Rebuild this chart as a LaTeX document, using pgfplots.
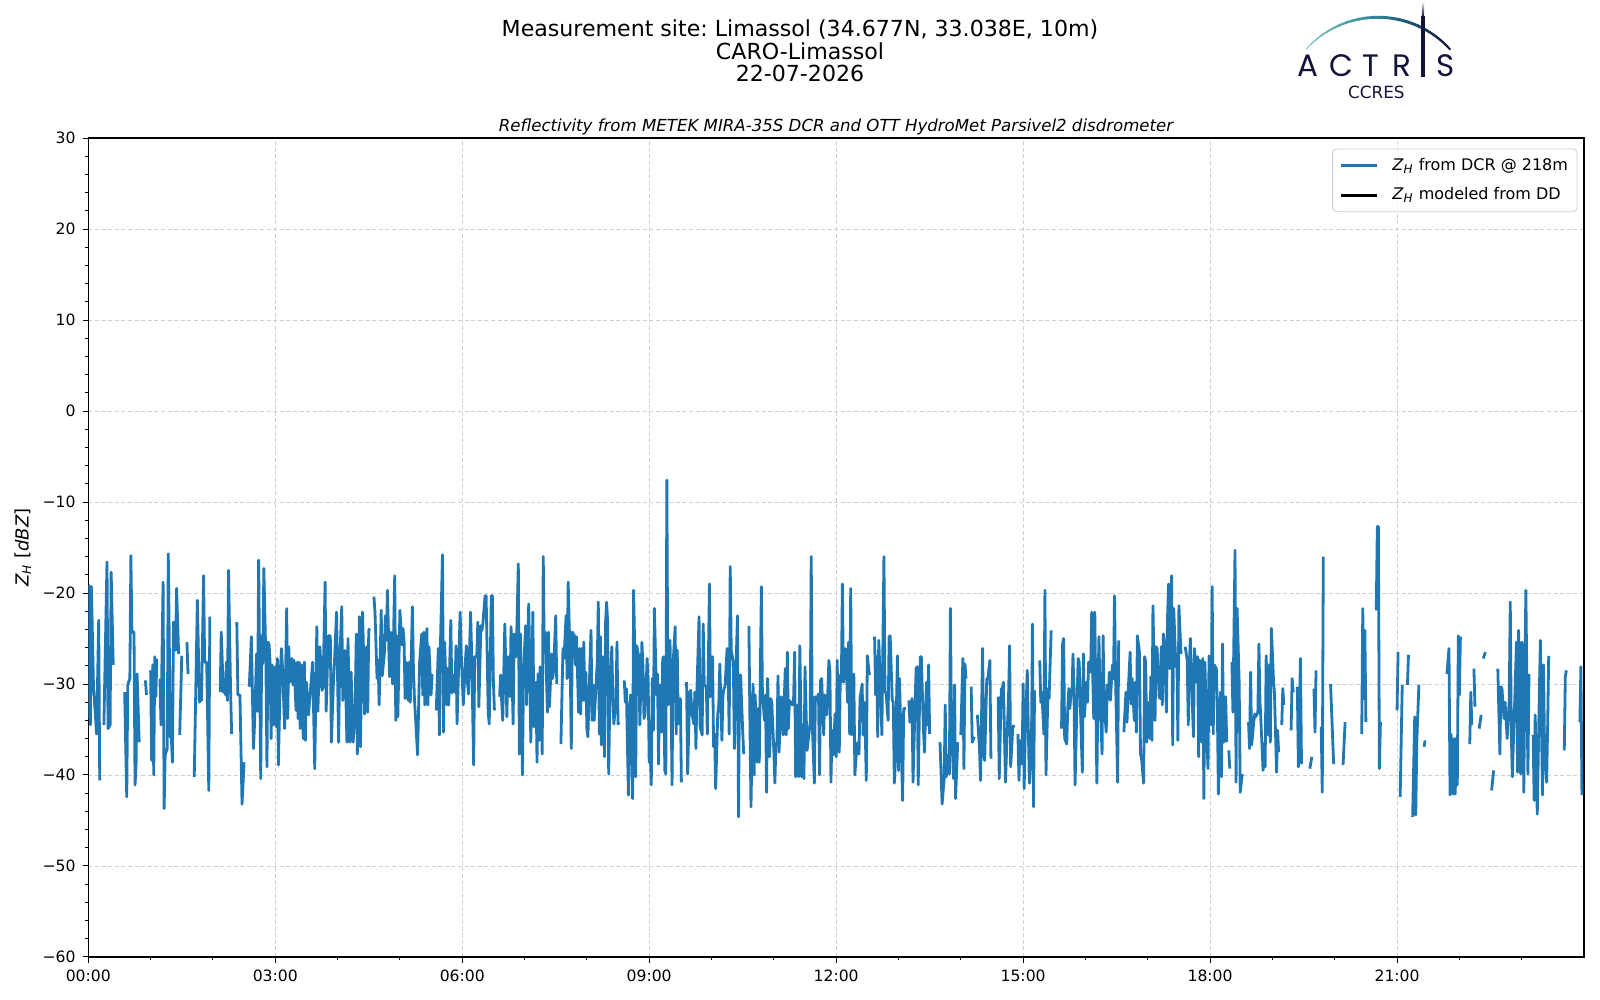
\documentclass[border=0pt]{standalone}
\usepackage{fontspec}
\setmainfont{DejaVu Sans}
\newfontfamily\logofont{Poppins}
\usepackage{pgfplots}
\pgfplotsset{compat=1.18}
\definecolor{mplblue}{HTML}{1F77B4}
\definecolor{navy}{HTML}{12123A}
\definecolor{tealA}{HTML}{7CC8C6}
\definecolor{tealB}{HTML}{2A7F95}
\definecolor{gridgray}{HTML}{D0D0D0}
\definecolor{leggray}{HTML}{CCCCCC}
\frenchspacing
\begin{document}
\begin{tikzpicture}
\path[use as bounding box] (0,0) rectangle (800pt,500pt);
\begin{axis}[
  at={(44.15pt,21.5pt)}, anchor=south west,
  scale only axis, width=747.85pt, height=409.5pt,
  xmin=0, xmax=1440, ymin=-60, ymax=30,
  xtick={0,180,...,1260},
  xticklabels={00:00,03:00,06:00,09:00,12:00,15:00,18:00,21:00},
  minor xtick={60,120,...,1380},
  ytick={-60,-50,...,30},
  yticklabels={−60,−50,−40,−30,−20,−10,0,10,20,30},
  minor ytick={-58,-56,...,28},
  tick align=outside, tick pos=left,
  major tick length=2.85pt, minor tick length=1.7pt,
  every tick/.style={black, line width=0.5pt},
  axis line style={line width=0.6pt},
  grid=major,
  major grid style={gridgray, dash pattern=on 2pt off 1.3pt, line width=0.4pt},
  tick label style={font=\fontsize{7.8}{9}\selectfont},
  unbounded coords=jump,
  legend cell align=left,
  legend image code/.code={\path (-1pt,0pt) (23pt,0pt); \draw[#1] (0pt,0pt) -- (18pt,0pt);},
  legend style={at={(1,1)}, anchor=north east, xshift=-3.3pt, yshift=-5.3pt,
    draw=leggray, rounded corners=2pt, fill=white,
    fill opacity=0.8, text opacity=1, draw opacity=1, font=\fontsize{8}{9.6}\selectfont,
    inner xsep=2.5pt, inner ysep=2.5pt, row sep=3.2pt},
]
\addlegendimage{mplblue, line width=1.4pt, opacity=1}
\addlegendentry{\textit{Z}\textsubscript{\textit{H}} from DCR @ 218m}
\addlegendimage{black, line width=1.4pt, opacity=1}
\addlegendentry{\textit{Z}\textsubscript{\textit{H}} modeled from DD}
\addplot[mplblue, line width=1.4pt, line join=round, forget plot] table[x index=0, y index=1] {
0 -33.8
1 -19.2
2 -34.5
3 -19.3
5 -30.3
8 -35.5
10 -23.0
11 -40.6
13 nan
15 -34.5
18 -16.6
19 -34.9
21 -34.5
22 -17.7
24 -27.9
30 nan
35 -30.9
37 -42.4
38 -30.1
40 -29.4
41 -15.9
42 -24.3
44 -24.3
45 -41.1
46 -38.9
47 -28.9
49 -36.4
52 nan
55 -29.6
56 -31.2
58 nan
60 -28.5
61 -38.4
62 -27.9
63 -40.0
64 -27.0
65 -31.4
66 -27.2
67 nan
69 -29.4
70 -34.5
72 -18.8
73 -43.7
74 -37.8
76 -37.1
77 -15.7
79 -35.8
80 -36.0
81 -38.6
82 -23.2
84 -26.3
85 -19.5
87 -26.7
87.5 nan
88 -35.6
90 -26.9
92 nan
95 -25.4
96 -28.9
99 nan
102 -40.2
105 -20.8
107 -32.0
108 -31.4
109 -31.8
111 -18.1
112 -27.6
114 -27.6
116 -41.7
117 -22.6
120 nan
127 -30.9
128 -24.3
130 -30.9
131 -29.8
132 -31.2
133 -27.6
134 -31.8
135 -17.5
137 -30.9
138 -35.5
140 nan
143 -23.2
144 -31.2
146 -31.2
148 -43.2
150 -38.6
152 nan
155 -30.3
157 -24.8
159 -37.1
160 -34.5
162 -26.7
163 -33.0
164 -16.4
166 -40.4
167 -24.7
168 -27.8
169 -17.3
171 -27.6
172 -39.1
173 -25.4
174 -25.6
175 -27.6
176 -36.0
177 -27.9
178 -34.5
180 -28.1
181 -34.7
182 -27.2
183 -38.9
185 -28.3
186 -26.1
187 -28.3
189 -34.9
191 -21.7
192 -33.8
193 -25.9
194 -29.8
196 -27.2
197 -30.1
198 -27.4
200 -32.9
201 -27.6
202 -33.8
203 -27.6
204 -34.9
205 -27.9
207 -36.0
208 -27.6
209 -36.2
210 -29.8
212 -33.4
216 -27.6
218 -39.3
220 -23.7
221 -33.0
223 -25.9
225 -30.7
226 -30.3
228 -18.8
229 -33.0
231 -24.7
233 -24.7
234 -36.4
236 -29.8
237 -27.6
239 -22.1
241 -36.4
242 -27.8
244 -21.5
245 -31.8
247 -26.3
249 -36.4
250 -25.0
252 -36.4
253 -28.7
255 -36.4
257 -32.0
258 -24.5
259 -37.7
261 -22.6
262 -36.9
264 -22.1
265 -26.5
266 -33.3
268 -25.9
269 -33.1
270 -24.1
271 -23.9
273 nan
275 -20.4
276 -22.1
278 -29.4
279 -27.4
280 -32.3
282 -21.9
283 -29.1
285 -26.7
286 -22.5
287 -25.2
288 -19.7
290 -29.2
291 -24.3
293 -30.0
295 -18.1
296 -34.0
297 -24.7
298 -33.6
300 -21.9
302 -25.7
303 -23.9
304 -25.2
305 -31.6
306 -27.6
308 -31.8
309 -27.6
310 -32.0
312 -21.5
313 -28.3
314 -31.6
317 -37.8
319 -27.6
321 -24.5
322 -31.2
323 -24.3
324 -32.3
326 -23.9
327 -32.3
328 -25.9
330 -31.2
331 -28.9
333 nan
335 -32.9
337 -26.1
338 -35.6
339 -25.8
341 -15.8
342 -35.3
343 -25.4
345 -32.3
346 -28.3
347 -32.3
349 -23.0
350 -31.0
351 -29.0
353 -30.9
354 -25.8
355 -34.4
358 -22.1
359 -26.5
361 -32.3
363 -27.6
364 -25.8
365 -29.8
366 -31.1
368 -22.1
369 -26.3
371 -38.9
372 -27.0
374 -27.0
375 -23.2
376 -32.5
378 -23.6
379 -24.1
380 -23.2
382 -20.3
383 -20.3
385 -33.1
386 -34.4
388 -20.3
389 -20.3
390 -29.8
391 -32.9
393 nan
396 -31.4
397 -29.0
398 -32.0
399 -34.0
401 -23.4
403 -33.6
404 -27.0
406 -31.4
407 -23.7
409 -34.4
410 -24.5
412 -27.0
414 -16.8
415 -37.7
416 -24.5
418 -40.0
419 -28.7
421 -23.6
422 -32.3
424 -21.2
425 -27.4
426 -36.4
428 -22.1
429 -34.7
431 -29.8
432 -38.6
433 -28.9
434 -36.2
435 -28.1
437 -37.7
438 -16.0
439 -26.5
440 -24.3
442 -33.1
443 -24.3
444 -32.5
446 -26.7
447 -29.4
448 -28.5
450 -22.5
451 -30.0
453 nan
455 -36.6
457 -26.1
458 -27.2
460 -22.5
461 -29.4
462 -18.8
464 -28.1
465 -37.1
466 -24.3
468 -24.7
469 -27.9
470 -24.8
472 -33.1
473 -26.1
474 -33.3
475 -26.1
476 -31.8
477 -25.4
478 -31.8
479 -28.7
480 -34.9
481 -35.8
483 -27.6
484 -24.1
485 -34.0
486 -30.1
487 -34.0
488 -32.0
490 -27.6
491 -21.0
492 -35.5
493 -24.8
494 -36.7
495 -27.0
497 -38.0
498 -23.2
499 -21.0
500 -23.2
501 -39.9
502 -32.3
504 -25.9
505 -31.6
506 -34.4
508 -31.6
509 -25.4
510 -34.4
511 -34.2
513 nan
516 -29.6
517 -32.0
518 -30.5
520 -42.2
521 -32.9
522 -31.2
524 -42.6
525 -19.7
526 -25.8
527 -40.2
528 -25.8
530 -27.0
531 -34.5
533 -25.4
534 -28.1
535 -33.8
536 -33.3
538 -27.2
539 -29.8
540 -38.6
541 -37.5
542 -41.1
543 -29.4
544 -35.1
545 -21.7
547 -31.2
548 -28.9
549 -38.8
550 -30.1
552 -35.3
553 -27.2
554 -27.0
555 -39.5
556 -39.9
557 -7.6
558 -32.3
560 -25.2
561 -31.1
562 -41.1
563 -27.8
565 -23.7
566 -35.5
567 -26.3
568 -34.4
570 -31.6
571 -40.8
573 nan
576 -29.8
577 -39.9
579 -30.9
580 -30.7
581 -33.1
583 -34.4
584 -30.9
585 -37.1
586 -30.5
588 -22.6
589 -34.7
591 -35.6
592 -23.4
593 -30.1
595 -30.3
596 -35.5
598 -19.0
599 -31.4
601 -27.0
602 -36.9
603 -35.5
604 -41.5
606 -33.3
607 -32.2
608 -27.8
610 -36.2
611 -31.2
612 -30.5
613 -30.3
615 -26.1
616 -28.3
617 -35.5
618 -17.1
619 -26.3
621 -27.6
622 -37.1
623 -30.5
625 -22.5
626 -44.6
627 -29.0
628 -29.0
630 -35.1
631 -37.7
633 nan
636 -23.6
637 -34.4
638 -43.5
640 -30.0
641 -40.0
642 -31.2
644 -38.6
645 -32.7
646 -38.6
648 -19.3
649 -31.1
651 -34.0
652 -31.2
653 -41.9
654 -29.4
656 -38.0
657 -31.6
658 -32.0
660 -37.3
661 -40.9
662 -36.6
663 -36.4
664 -29.1
665 -37.5
667 -31.4
668 -33.8
669 -35.6
671 -28.3
672 -35.6
673 -26.5
674 -34.9
675 -31.8
677 -32.2
678 -32.3
679 -31.8
680 -26.5
681 -40.2
683 -32.3
684 -40.2
685 -25.8
687 -40.2
688 -34.5
689 -40.4
690 -28.1
692 -37.3
695 -34.2
696 -16.0
697 -34.4
699 -40.9
700 -31.4
701 -31.8
703 -31.1
704 -40.0
705 -29.6
706 -29.4
708 -35.6
709 -31.2
711 -33.4
712 -30.7
713 -27.4
714 -28.7
715 -40.8
716 -35.1
717 -37.8
719 -33.3
720 -38.0
721 -27.4
722 -34.9
723 -37.5
724 -29.0
725 -29.8
726 -19.0
727 -29.8
729 -26.1
731 -32.0
732 -25.4
733 -35.5
734 -19.5
735 -35.6
737 -28.9
738 -40.0
740 -36.7
741 -36.4
742 -37.7
743 -31.6
745 -30.0
746 -35.6
747 -32.0
748 -35.1
749 -40.6
750 -26.9
752 -29.0
754 nan
757 -24.8
758 -31.2
759 -27.0
760 -35.8
761 -25.2
763 -31.2
764 -35.6
766 -16.0
767 -30.9
768 -30.9
770 -34.0
771 -24.8
772 -24.7
774 -31.8
775 -32.0
776 -40.9
777 -38.6
779 -26.9
780 -39.5
781 -29.4
782 -34.2
784 -42.8
785 -32.7
787 -32.7
788 nan
790 -31.8
791 -34.2
793 -31.6
794 -40.8
796 -32.0
797 -28.3
798 -28.1
799 -41.1
801 -27.0
802 -27.0
804 -34.9
805 -37.5
807 -29.8
808 -34.5
809 -27.9
810 -35.5
815 nan
820 -36.4
822 -43.2
824 -40.4
825 -32.3
826 -40.2
827 -37.8
829 -39.9
830 -21.7
831 -34.5
833 -40.4
834 -30.1
835 -42.6
837 -36.4
838 nan
840 -35.6
842 -27.2
843 -39.3
844 -27.8
845 -29.4
847 nan
850 -30.3
851 -36.4
853 -35.8
854 nan
856 -33.4
858 -37.1
859 -40.6
861 -26.1
862 -37.8
863 -38.4
865 -29.4
866 -29.4
868 -27.4
869 -38.2
872 nan
876 -31.4
877 -40.4
879 -30.5
880 -30.5
881 -29.8
883 -40.8
886 -31.2
887 -25.8
888 -39.1
890 -34.9
891 -34.5
893 nan
895 -35.5
896 -40.6
897 -36.2
899 -38.8
900 -30.0
901 -41.5
902 -35.6
904 -28.5
905 -34.9
906 -40.9
908 -36.9
909 -23.4
910 -43.5
911 -30.7
913 nan
916 -27.4
917 -32.0
918 -30.9
920 -35.5
921 -19.7
922 -40.0
924 -30.5
925 -31.6
927 -24.1
930 nan
937 -34.9
938 -25.6
939 -25.0
940 -36.0
942 -36.6
943 -32.7
944 -30.5
945 -32.7
946 -31.2
947 -31.2
948 -26.7
949 -31.1
950 -41.1
952 -31.2
953 -27.2
954 -27.6
955 -32.0
957 -39.7
958 -26.7
959 -33.6
961 -29.8
962 -32.0
963 -27.6
965 -28.7
966 -22.1
967 -29.1
968 -33.8
969 -22.1
971 -40.9
972 -31.1
973 -24.8
974 -31.1
976 -37.7
977 -24.7
978 -32.2
980 -35.3
981 -30.1
982 -31.6
983 -28.7
984 -31.8
986 -27.9
987 -29.4
988 -20.3
989 -29.4
991 -40.8
992 -25.2
994 nan
997 -35.3
999 -30.9
1000 -34.2
1001 -31.2
1003 -26.5
1004 -32.2
1005 -29.4
1007 -34.0
1008 -29.8
1009 -35.3
1010 -24.7
1012 -26.5
1013 -37.7
1014 -38.2
1016 -40.9
1017 -27.0
1018 -27.6
1019 -36.4
1020 -32.0
1022 -36.0
1023 -29.2
1024 -36.2
1025 -21.4
1027 -34.0
1028 -25.9
1029 -26.1
1031 -31.4
1032 -31.6
1033 -25.9
1034 -32.3
1035 -24.5
1036 -25.4
1038 -33.1
1039 -22.8
1040 -19.0
1041 -28.3
1043 -18.1
1044 -36.7
1045 -21.7
1047 -28.1
1048 -26.7
1049 -36.2
1050 -21.4
1052 -26.7
1054 nan
1056 -25.9
1058 -27.4
1059 -34.5
1060 -27.9
1061 -25.0
1063 -32.5
1064 -35.8
1065 -26.1
1067 -29.8
1068 -27.0
1069 -38.0
1070 -27.4
1072 -36.4
1073 -27.2
1074 -42.6
1075 -27.6
1077 -36.4
1078 -39.3
1079 -26.9
1081 -34.5
1082 -19.3
1083 -35.5
1084 -27.9
1086 -28.3
1087 -32.7
1088 -42.1
1090 -30.9
1091 -40.2
1092 -25.6
1093 -36.4
1095 -31.4
1096 -36.4
1097 nan
1098 -37.3
1099 -39.3
1100 nan
1101 -27.6
1102 -33.1
1104 -15.3
1105 -40.8
1106 -21.7
1108 -29.8
1109 -41.9
1111 -39.9
1114 nan
1117 -34.2
1118 -37.1
1119 -28.7
1120 -36.7
1122 -34.2
1123 -33.3
1124 -33.6
1126 -33.1
1127 -25.6
1128 -31.8
1129 -34.2
1131 -39.5
1132 -36.6
1133 -39.1
1134 -26.9
1136 -35.6
1137 -27.9
1138 -36.4
1139 -23.9
1141 -29.4
1142 -31.1
1144 -39.7
1145 -35.1
1146 -37.5
1147 nan
1149 -34.5
1150 -30.5
1151 -32.3
1154 nan
1158 -35.1
1159 -29.4
1160 -30.9
1162 nan
1164 -30.3
1165 -39.1
1167 -27.2
1168 -38.8
1170 nan
1176 -39.3
1178 -38.0
1179 nan
1180 -30.5
1181 -35.3
1182 -28.5
1184 nan
1187 -34.7
1188 -41.9
1189 -16.0
1192 nan
1196 -30.0
1198 -36.0
1199 -38.8
1203 nan
1208 -38.9
1210 -34.2
1215 nan
1226 -35.5
1227 -21.7
1228 -31.6
1229 -24.1
1230 -34.2
1235 nan
1240 -21.9
1241 -12.7
1242 -12.7
1243 -39.3
1244 -34.2
1250 nan
1260 -32.9
1261 -26.5
1262 nan
1263 -42.4
1265 -30.1
1267 nan
1270 -30.1
1271 -26.8
1273 nan
1275 -44.6
1277 -33.6
1278 -44.4
1279 -36.4
1281 -30.1
1283 nan
1286 -36.9
1287 -36.2
1295 nan
1308 -28.9
1310 -26.1
1311 -42.2
1312 -35.5
1314 -42.1
1315 -36.0
1316 -42.1
1317 -36.0
1318 -41.1
1319 -24.7
1320 -31.2
1321 -24.8
1325 nan
1330 -36.6
1331 -30.9
1332 -34.5
1333 nan
1334 -28.3
1335 -32.5
1337 nan
1339 -34.9
1341 -33.4
1342 nan
1343 -27.2
1345 -26.5
1348 nan
1351 -41.7
1353 -39.5
1355 nan
1357 -28.3
1359 -37.7
1360 -30.3
1361 -30.5
1363 -33.8
1364 -32.0
1366 -36.0
1368 -31.8
1369 -21.0
1370 -35.6
1371 -40.2
1375 -25.4
1376 -39.7
1377 -24.1
1379 -39.9
1380 -25.4
1381 -25.8
1382 -41.9
1383 -29.8
1384 -19.7
1386 -39.9
1387 -28.9
1389 nan
1391 -35.6
1392 -42.8
1393 -33.4
1395 -44.3
1397 -30.9
1398 -25.2
1400 -42.2
1401 -27.9
1402 -37.3
1404 -40.8
1405 -34.5
1406 -26.9
1410 nan
1421 -37.3
1422 -29.2
1423 -28.5
1428 nan
1436 -34.2
1437 -28.1
1438 -42.2
};
\end{axis}
% titles
\node[anchor=base, font=\fontsize{11.05}{12}\selectfont] at (400pt,481.65pt) {Measurement site: Limassol (34.677N, 33.038E, 10m)};
\node[anchor=base, font=\fontsize{11.05}{12}\selectfont] at (400pt,470.35pt) {CARO-Limassol};
\node[anchor=base, font=\fontsize{11.05}{12}\selectfont] at (400pt,459.15pt) {22-07-2026};
\node[anchor=base, font=\fontsize{8.3}{10}\selectfont\itshape] at (418pt,434pt) {Reflectivity from METEK MIRA-35S DCR and OTT HydroMet Parsivel2 disdrometer};
% y label
\node[rotate=90, anchor=center, font=\fontsize{9}{10}\selectfont] at (11.5pt,226.25pt) {\textit{Z}\textsubscript{\textit{H}} [\textit{dBZ}]};
% logo
\foreach \i in {0,...,23}{
  \pgfmathsetmacro\aA{138-4*\i}
  \pgfmathsetmacro\aB{\aA-4.3}
  \pgfmathtruncatemacro\pc{min(100,\i*100/12)}
  \pgfmathtruncatemacro\pe{100-max(0,(\i-12)*100/11)}
  \pgfmathsetmacro\lw{0.5+1.0*sin(\i*6.5)}
  \draw[line width=\lw pt, color=tealB!\pc!tealA!\pe!navy]
    ([shift={(\aA:48.5pt)}]689pt,442.85pt) arc[start angle=\aA, end angle=\aB, radius=48.5pt];
}
\fill[navy] (710.7pt,461.65pt) rectangle (712.3pt,492pt);
\shade[top color=white, bottom color=navy] (710.9pt,492pt) rectangle (712.1pt,499.3pt);
\foreach \c/\x in {A/653.75, C/670.5, T/685.5, R/701, S/723}{
  \node[font=\logofont\fontsize{15.5}{16}\selectfont, text=navy, anchor=base, inner sep=0pt] at (\x pt,461.65pt) {\c};
}
\node[font=\fontsize{8.4}{9}\selectfont, text=navy, anchor=base, inner sep=0pt] at (688.2pt,450.85pt) {CCRES};
\end{tikzpicture}
\end{document}
